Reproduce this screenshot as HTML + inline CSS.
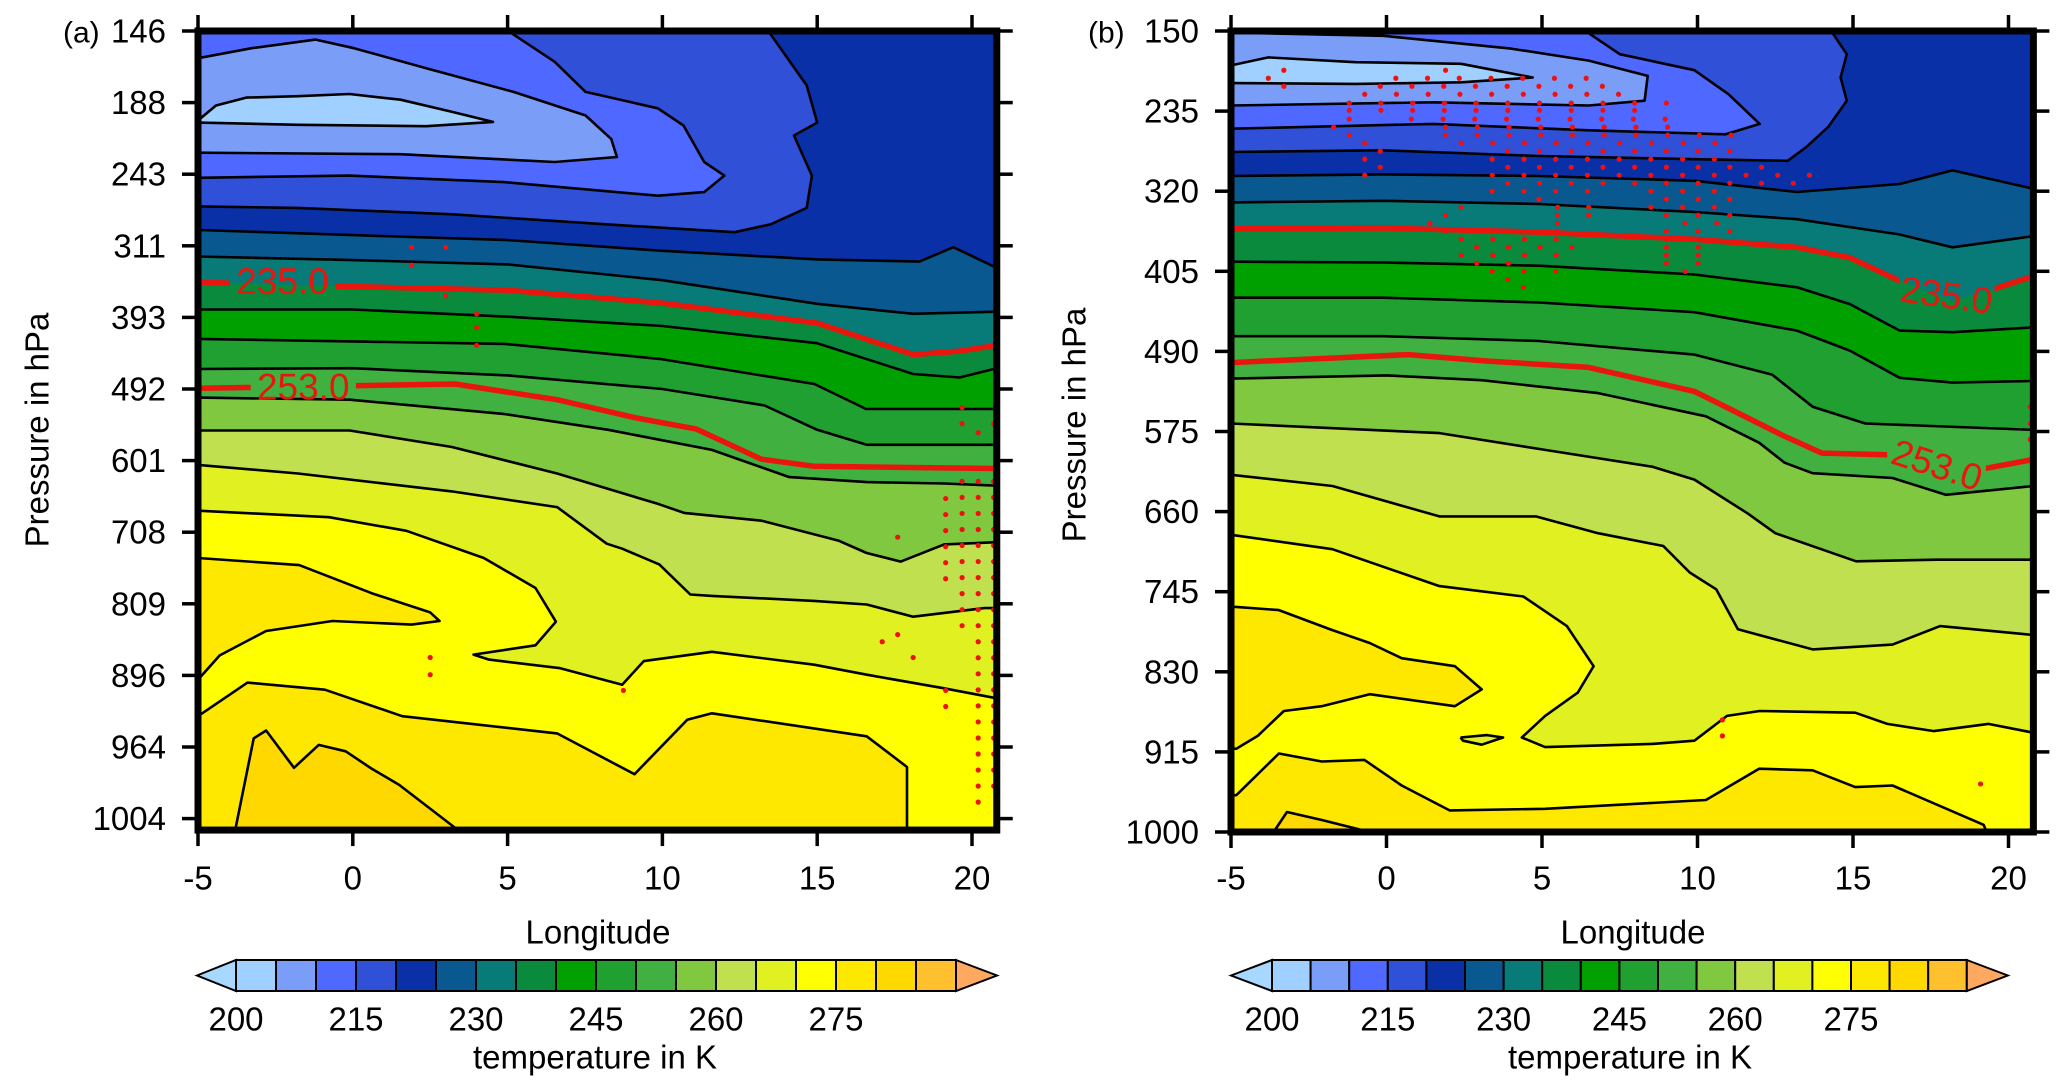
<!DOCTYPE html>
<html><head><meta charset="utf-8"><title>Temperature cross sections</title>
<style>
html,body{margin:0;padding:0;background:#fff;}
svg{display:block;font-family:"Liberation Sans",Arial,sans-serif;}
</style></head>
<body>
<svg id="fig" width="2067" height="1091" viewBox="0 0 2067 1091" xmlns="http://www.w3.org/2000/svg">
<rect x="0" y="0" width="2067" height="1091" fill="#fff"/>
</svg>
<script>
// ---------------- data ----------------
const lonTicks=[-5,0,5,10,15,20];
const aPressureTicks=[146,188,243,311,393,492,601,708,809,896,964,1004];
const bPressureTicks=[150,235,320,405,490,575,660,745,830,915,1000];
const cbarLevels=[200,205,210,215,220,225,230,235,240,245,250,255,260,265,270,275,280,285];
const cbarColors=['#a0d0ff','#7a9ef8','#4f68ff','#3050d8','#0a30a8','#0a5890','#087a78','#0a8a3c','#00a000','#20a030','#40b040','#80c840','#c0e050','#e0f020','#ffff00','#ffe800','#ffd800','#ffc030'];
const cbarLabels=[200,215,230,245,260,275];

// Panel (a) contours: [lon, level-index]
const aCold220=[[13.42,0],[14.66,0.76],[15.0,1.28],[14.25,1.46],[14.83,2.02],[14.66,2.47],[13.5,2.7],[12.33,2.81],[8.18,2.7],[3.21,2.56],[-1.77,2.47],[-5,2.45]];
const aCold215=[[5.02,0],[6.52,0.43],[7.52,0.85],[9.85,1.08],[10.68,1.32],[11.35,1.83],[12.0,2.02],[11.35,2.25],[9.85,2.3],[4.87,2.11],[-0.11,2.02],[-5,2.05]];
const aCold210=[[-5,0.38],[-3.27,0.24],[-1.2,0.12],[0.04,0.24],[2.37,0.52],[5.19,0.85],[7.52,1.18],[8.35,1.51],[8.53,1.76],[6.52,1.83],[1.54,1.72],[-5,1.70]];
const aCold205=[[-5,1.25],[-4.42,1.04],[-3.44,0.93],[-1.77,0.91],[-0.11,0.88],[1.54,0.96],[3.21,1.13],[4.53,1.27],[2.37,1.33],[-1.77,1.31],[-5,1.28]];
const aL225=[[-5,2.78],[0,2.85],[5,2.92],[10,3.07],[15,3.19],[18.3,3.22],[19.4,3.02],[20.8,3.31]];
const aL230=[[-5,3.15],[0,3.2],[5,3.26],[10,3.48],[15,3.81],[18.1,3.95],[20.8,3.92]];
const aR235=[[-5,3.51],[0,3.57],[5,3.62],[10,3.8],[15,4.08],[18.1,4.52],[19.6,4.47],[20.8,4.39]];
const aL240=[[-5,3.89],[0,3.89],[5,3.99],[10,4.12],[15,4.36],[18.1,4.79],[19.6,4.84],[20.8,4.71]];
const aL245=[[-5,4.3],[4.91,4.37],[9.91,4.58],[14.91,4.93],[16.58,5.28],[20.8,5.28]];
const aL250=[[-5,4.72],[0,4.71],[5,4.81],[10,5.0],[13.3,5.23],[15,5.57],[16.6,5.78],[20.8,5.78]];
const aR253=[[-5,4.99],[3.3,4.93],[6.6,5.15],[9.1,5.4],[11.1,5.56],[13.2,5.98],[14.9,6.08],[20.8,6.11]];
const aL255=[[-5,5.12],[-0.1,5.15],[4.91,5.35],[8.25,5.57],[11.6,5.85],[14.1,6.23],[16.6,6.3],[19.1,6.32],[20.8,6.35]];
const aL260=[[-5,5.58],[-0.1,5.58],[3.2,5.81],[6.6,6.18],[9.9,6.61],[10.7,6.73],[13.2,6.84],[15.7,7.12],[16.6,7.29],[17.7,7.41],[19.1,7.17],[20.8,7.14]];
const aL265=[[-5,6.06],[-1.77,6.18],[3.2,6.43],[6.6,6.65],[8.2,7.16],[8.7,7.23],[9.9,7.45],[10.9,7.87],[11.6,7.89],[14.9,7.96],[16.6,8.01],[18.1,8.18],[20.4,8.06],[20.8,8.06]];
const aL270=[[-5,6.7],[-0.77,6.79],[1.73,6.98],[4.23,7.36],[5.9,7.78],[6.56,8.25],[5.9,8.58],[3.9,8.71],[4.4,8.78],[6.7,8.9],[8.7,9.13],[9.4,8.8],[11.6,8.67],[14.9,8.85],[16.6,8.99],[19.1,9.18],[20.8,9.32]];
const aW275a=[[-5,7.36],[-1.73,7.46],[0.6,7.85],[2.5,8.12],[2.8,8.24],[1.9,8.29],[-0.66,8.24],[-2.8,8.38],[-4.3,8.72],[-5,9.06]];
const aW275b=[[-5,9.57],[-3.4,9.1],[-0.9,9.2],[1.6,9.57],[6.6,9.81],[9.1,10.38],[10.8,9.62],[11.6,9.53],[16.6,9.85],[17.9,10.28],[17.9,11.16]];
const aW280=[[-3.8,11.16],[-3.2,9.88],[-2.8,9.77],[-1.9,10.29],[-1.1,9.97],[-0.23,10.06],[0.6,10.3],[1.5,10.53],[3.4,11.16]];
const aDotColumns=[[19.15,6.53,7.65],[19.15,9.21,9.45],[19.68,5.26,5.5],[19.68,6.29,8.38],[20.2,5.61,5.61],[20.2,6.29,10.77],[20.7,5.49,5.49],[20.7,6.29,10.67]];
const aDotsSingle=[[1.9,3.02],[1.9,3.27],[3.0,3.02],[3.0,3.7],[4.0,3.95],[4.0,4.14],[4.0,4.39],[17.6,7.07],[17.1,8.53],[17.6,8.43],[18.1,8.75],[2.5,8.75],[2.5,8.99],[8.74,9.21]];

// Panel (b) contours
const bCold220=[[14.3,0],[14.8,0.29],[14.6,0.58],[14.8,0.87],[14.2,1.2],[13.5,1.45],[12.9,1.62],[9.9,1.6],[4.9,1.56],[-0.13,1.49],[-5,1.51]];
const bCold215=[[6.4,0],[7.5,0.29],[9.9,0.49],[11.0,0.79],[12.0,1.16],[10.9,1.29],[6.5,1.24],[1.5,1.16],[-5,1.22]];
const bCold210=[[-5,0.02],[-0.1,0.06],[4.0,0.22],[6.5,0.37],[8.4,0.56],[8.3,0.87],[6.5,0.93],[1.5,0.89],[-5,0.93]];
const bCold205=[[-5,0.43],[-3.8,0.33],[-1,0.39],[2.4,0.41],[4.7,0.58],[2.4,0.64],[-1,0.66],[-5,0.65]];
const bL225=[[-5,1.81],[-0.1,1.79],[4.9,1.81],[9.9,1.87],[13.2,2.01],[16.5,1.91],[18.2,1.74],[20.8,1.97]];
const bL230=[[-5,2.14],[-0.1,2.12],[4.9,2.16],[9.9,2.26],[13.2,2.35],[16.5,2.54],[18.2,2.7],[20.8,2.56]];
const bR235=[[-5,2.47],[-0.1,2.46],[4.9,2.51],[9.9,2.6],[13.2,2.7],[14.9,2.83],[16.5,3.12],[18.2,3.37],[19.7,3.2],[20.8,3.06]];
const bL240=[[-5,2.88],[-0.1,2.89],[4.9,2.93],[9.9,3.04],[13.2,3.2],[14.9,3.41],[16.5,3.74],[18.2,3.76],[20.8,3.7]];
const bL245=[[-5,3.33],[-0.1,3.33],[4.9,3.39],[9.9,3.51],[13.2,3.74],[14.9,3.99],[16.5,4.33],[18.2,4.39],[20.8,4.37]];
const bL250=[[-5,3.81],[-0.1,3.81],[4.9,3.87],[9.9,4.04],[12.4,4.29],[13.7,4.69],[15.4,4.9],[20.8,4.98]];
const bR253=[[-5,4.14],[0.7,4.04],[3.2,4.12],[6.5,4.2],[9.9,4.5],[11.1,4.73],[12.8,5.06],[14.0,5.27],[16.1,5.29],[19.27,5.46],[20.8,5.35]];
const bL255=[[-5,4.34],[0,4.3],[3.06,4.36],[6.8,4.52],[10.27,4.81],[11.98,5.14],[12.8,5.39],[13.7,5.52],[16.27,5.58],[17.98,5.79],[20.8,5.68]];
const bL260=[[-5,4.9],[1.7,5.02],[5.1,5.23],[8.55,5.44],[9.9,5.6],[11.6,6.02],[12.5,6.27],[15.1,6.62],[17.7,6.6],[20.8,6.6]];
const bL265=[[-5,5.54],[-1.74,5.68],[1.7,6.06],[4.8,6.06],[6.8,6.27],[8.9,6.43],[9.75,6.76],[10.6,6.97],[11.3,7.47],[13.7,7.72],[16.27,7.66],[17.8,7.43],[20.8,7.54]];
const bL270=[[-5,6.29],[-1.74,6.47],[1.7,6.93],[4.4,7.06],[5.8,7.43],[6.66,7.93],[6.15,8.26],[5.1,8.55],[4.35,8.82],[5.1,8.94],[8.55,8.9],[9.9,8.86],[10.95,8.55],[12.0,8.49],[15.07,8.51],[16.1,8.65],[17.6,8.74],[19.35,8.65],[20.8,8.76]];
const bW275a=[[-5,7.19],[-4.83,7.19],[-3.46,7.23],[-1.74,7.48],[-0.54,7.64],[0.49,7.83],[2.2,7.93],[3.06,8.22],[2.2,8.43],[-0.54,8.28],[-2.08,8.43],[-3.3,8.49],[-4.14,8.8],[-4.83,8.96],[-5,8.96]];
const bW275b=[[-5,9.54],[-4.83,9.54],[-3.46,9.02],[-2.08,9.12],[-0.71,9.1],[0.49,9.42],[2.03,9.73],[5.1,9.71],[10.27,9.6],[11.98,9.21],[13.7,9.23],[15.07,9.44],[16.27,9.42],[19.2,9.91],[19.3,10]];
const bW280=[[-3.63,10],[-3.2,9.75],[-2.08,9.85],[-0.54,10]];
const bBlob265=[[2.38,8.82],[3.23,8.79],[3.75,8.82],[3.06,8.91],[2.46,8.86]];
const bDotRows=[[0.49,-3.3,-3.3],[0.49,1.9,1.9],[0.59,-3.8,-2.8],[0.59,0.3,6.5],[0.69,-3.3,-3.3],[0.69,-0.2,7.0],[0.79,-0.7,7.5],[0.9,-1.2,9.0],[0.99,-1.2,8.5],[1.1,-1.2,-1.2],[1.1,0.8,9.0],[1.2,-1.7,-1.7],[1.2,1.9,9.6],[1.3,-1.2,-1.2],[1.3,1.9,11.5],[1.4,-0.7,-0.7],[1.4,2.4,11.5],[1.5,-0.2,-0.2],[1.5,3.9,11.5],[1.6,-0.7,-0.7],[1.6,3.4,11.5],[1.7,-0.2,-0.2],[1.7,3.9,12.1],[1.8,-0.7,-0.7],[1.8,3.4,13.7],[1.9,3.9,13.2],[2.0,3.4,6.5],[2.0,8.5,11.5],[2.1,4.9,4.9],[2.1,9.0,11.5],[2.2,2.4,2.4],[2.2,5.5,5.5],[2.2,6.5,6.5],[2.2,8.5,11.5],[2.3,1.9,2.9],[2.3,5.5,5.5],[2.3,6.5,6.5],[2.3,9.0,11.5],[2.4,1.4,2.4],[2.4,5.5,5.5],[2.4,9.6,11.5],[2.5,1.9,2.9],[2.5,5.5,6.0],[2.5,9.0,11.1],[2.6,2.4,6.0],[2.6,9.0,10.6],[2.7,2.9,6.0],[2.7,9.0,10.1],[2.8,2.4,5.5],[2.8,9.0,10.6],[2.9,2.9,4.9],[2.9,9.0,10.1],[3.0,3.4,5.5],[3.0,9.6,9.6],[3.1,3.9,4.9],[3.2,4.4,4.4]];
const bDotsSingle=[[10.8,8.6],[10.8,8.8],[19.1,9.4],[20.7,4.69],[20.7,4.9],[20.7,5.1]];

// ---------------- rendering ----------------
const svg=document.getElementById('fig');
const NS='http://www.w3.org/2000/svg';
function mk(tag,attrs,parent){const e=document.createElementNS(NS,tag);for(const k in attrs)e.setAttribute(k,attrs[k]);(parent||svg).appendChild(e);return e;}
function bandColor(level){const i=cbarLevels.indexOf(level);return cbarColors[i];}

const panels={
 a:{x0:198,xs:30.96,y0:31,ys:71.6,bottom:11.16,ticks:aPressureTicks,lbl:'(a)',tickLblX:166,lblX:63,pX:37,pY:430,lonX:598,cbX0:197,cbB0:236,cbBW:40},
 b:{x0:1231,xs:31.1,y0:31,ys:80.1,bottom:10,ticks:bPressureTicks,lbl:'(b)',tickLblX:1199,lblX:1088,pX:1074,pY:425,lonX:1633,cbX0:1231,cbB0:1272,cbBW:38.6}
};
function X(p,lon){return p.x0+(lon+5)*p.xs;}
function Y(p,i){return p.y0+i*p.ys;}
function ptsStr(p,pts){return pts.map(q=>X(p,q[0]).toFixed(1)+','+Y(p,q[1]).toFixed(1)).join(' ');}

function drawPanel(key,cfg){
 const p=panels[key];
 const g=mk('g',{});
 
 
 const cid='clip-'+key;
 const defs=mk('defs',{},g);
 const cp=mk('clipPath',{id:cid},defs);
 mk('rect',{x:X(p,-5),y:Y(p,0),width:X(p,20.8)-X(p,-5),height:Y(p,p.bottom)-Y(p,0)},cp);
 const field=mk('g',{'clip-path':'url(#'+cid+')'},g);
 
 
 const bg=mk('rect',{x:X(p,-5),y:Y(p,0),width:X(p,20.8)-X(p,-5),height:Y(p,p.bottom)-Y(p,0),fill:bandColor(220)},field);
 
 
 const strokes=[];
 cfg.cold.forEach(c=>{
  const extra=c.corner?[[-5,0]]:[];
  const poly=mk('polygon',{points:ptsStr(p,c.pts.concat(extra)),fill:bandColor(c.band)},field);
  
  
  strokes.push(c.pts);
 });
 cfg.below.forEach(c=>{
  if(c.band===240){
   const rp=cfg.red[0].pts.concat([[20.8,p.bottom+0.5],[-5,p.bottom+0.5]]);
   const poly235=mk('polygon',{points:ptsStr(p,rp),fill:bandColor(235)},field);
   
   
  }
  const pts=c.pts.concat([[20.8,p.bottom+0.5],[-5,p.bottom+0.5]]);
  const poly=mk('polygon',{points:ptsStr(p,pts),fill:bandColor(c.band)},field);
  
  
  strokes.push(c.pts);
 });
 cfg.warm.forEach(c=>{
  const extra=c.close||[];
  const poly=mk('polygon',{points:ptsStr(p,c.pts.concat(extra)),fill:bandColor(c.band)},field);
  
  
  strokes.push(c.closedStroke?c.pts.concat([c.pts[0]]):c.pts);
 });
 strokes.forEach(s=>{
  const l=mk('polyline',{points:ptsStr(p,s),fill:'none',stroke:'#000','stroke-width':2.6,'stroke-linejoin':'round'},field);
  
  
 });
 cfg.red.forEach((r,ri)=>{
  const mid='mask-'+key+ri;
  const m=mk('mask',{id:mid,maskUnits:'userSpaceOnUse',x:0,y:0,width:2067,height:1091},defs);
  mk('rect',{x:0,y:0,width:2067,height:1091,fill:'#fff'},m);
  mk('rect',{x:X(p,r.gap[0]),y:0,width:X(p,r.gap[1])-X(p,r.gap[0]),height:1091,fill:'#000'},m);
  const l=mk('polyline',{points:ptsStr(p,r.pts),fill:'none',stroke:'#e8160c','stroke-width':5.5,'stroke-linejoin':'round',mask:'url(#'+mid+')'},field);
  
  
  const t=mk('text',{x:X(p,r.lx),y:Y(p,r.ly),'font-size':37,fill:'#e8160c','text-anchor':'middle','dominant-baseline':'central',transform:'rotate('+r.rot+' '+X(p,r.lx)+' '+Y(p,r.ly)+')'},field);
  t.textContent=r.level.toFixed(1);
  
  
 });
 const dots=[];
 cfg.dotsSingle.forEach(d=>dots.push(d));
 (cfg.dotCols||[]).forEach(c=>{for(let v=c[1];v<=c[2]+0.001;v+=0.224)dots.push([c[0],v]);});
 (cfg.dotRows||[]).forEach(r=>{for(let v=r[1];v<=r[2]+0.01;v+=1.02)dots.push([v,r[0]]);});
 dots.forEach(d=>{
  const c=mk('circle',{cx:X(p,d[0]),cy:Y(p,d[1]),r:2.6,fill:'#ee1111'},field);
  
  
 });
 const fr=mk('rect',{x:X(p,-5),y:Y(p,0),width:X(p,20.8)-X(p,-5),height:Y(p,p.bottom)-Y(p,0),fill:'none',stroke:'#000','stroke-width':7},g);
 
 
 const left=X(p,-5),right=X(p,20.8),top=Y(p,0),bot=Y(p,p.bottom);
 lonTicks.forEach(v=>{
  const x=X(p,v);
  const t1=mk('line',{x1:x,y1:bot+3,x2:x,y2:bot+16,stroke:'#000','stroke-width':3.5},g);
  
  
  const t2=mk('line',{x1:x,y1:top-3,x2:x,y2:top-16,stroke:'#000','stroke-width':3.5},g);
  
  
  const tl=mk('text',{x:x,y:878,'font-size':33,'text-anchor':'middle','dominant-baseline':'central',fill:'#000'},g);
  tl.textContent=String(v);
  
  
 });
 p.ticks.forEach((v,i)=>{
  const y=Y(p,i);
  const t1=mk('line',{x1:left-3,y1:y,x2:left-16,y2:y,stroke:'#000','stroke-width':3.5},g);
  
  
  const t2=mk('line',{x1:right+3,y1:y,x2:right+16,y2:y,stroke:'#000','stroke-width':3.5},g);
  
  
  const tl=mk('text',{x:p.tickLblX,y:y,'font-size':33,'text-anchor':'end','dominant-baseline':'central',fill:'#000'},g);
  tl.textContent=String(v);
  
  
 });
 const pl=mk('text',{x:p.lblX,y:Y(p,0)+2,'font-size':30,'dominant-baseline':'central',fill:'#000'},g);
 pl.textContent=p.lbl;
 
 
 const yt=mk('text',{x:p.pX,y:p.pY,'font-size':33,'text-anchor':'middle','dominant-baseline':'central',transform:'rotate(-90 '+p.pX+' '+p.pY+')',fill:'#000'},g);
 yt.textContent='Pressure in hPa';
 
 
 const xt=mk('text',{x:p.lonX,y:932,'font-size':33,'text-anchor':'middle','dominant-baseline':'central',fill:'#000'},g);
 xt.textContent='Longitude';
 
 
 const cb=mk('g',{},g);
 
 
 const cy0=960,cy1=991,cym=(cy0+cy1)/2;
 const n=cbarColors.length;
 const endX=p.cbB0+n*p.cbBW;
 const lt=mk('polygon',{points:p.cbX0+','+cym+' '+p.cbB0+','+cy0+' '+p.cbB0+','+cy1,fill:'#a8d8ff',stroke:'#000','stroke-width':2},cb);
 
 
 cbarColors.forEach((c,i)=>{
  const r=mk('rect',{x:p.cbB0+i*p.cbBW,y:cy0,width:p.cbBW,height:cy1-cy0,fill:c,stroke:'#000','stroke-width':2},cb);
  
  
 });
 const rt=mk('polygon',{points:endX+','+cy0+' '+(endX+41)+','+cym+' '+endX+','+cy1,fill:'#ffa860',stroke:'#000','stroke-width':2},cb);
 
 
 cbarLabels.forEach(v=>{
  const i=cbarLevels.indexOf(v);
  const t=mk('text',{x:p.cbB0+i*p.cbBW,y:1019,'font-size':33,'text-anchor':'middle','dominant-baseline':'central',fill:'#000'},cb);
  t.textContent=String(v);
  
  
 });
 const ct=mk('text',{x:p.lonX-3,y:1057,'font-size':33,'text-anchor':'middle','dominant-baseline':'central',fill:'#000'},cb);
 ct.textContent='temperature in K';
 
 
}

drawPanel('a',{
 cold:[{band:215,pts:aCold220,corner:true},{band:210,pts:aCold215,corner:true},{band:205,pts:aCold210},{band:200,pts:aCold205}],
 below:[{band:225,pts:aL225},{band:230,pts:aL230},{band:240,pts:aL240},{band:245,pts:aL245},{band:250,pts:aL250},{band:255,pts:aL255},{band:260,pts:aL260},{band:265,pts:aL265},{band:270,pts:aL270}],
 warm:[{band:275,pts:aW275a},{band:275,pts:aW275b,close:[[-5,11.2]]},{band:280,pts:aW280}],
 red:[{level:235,pts:aR235,gap:[-3.97,-0.56],lx:-2.27,ly:3.5,rot:0},{level:253,pts:aR253,gap:[-3.3,0.1],lx:-1.6,ly:4.97,rot:0}],
 dotsSingle:aDotsSingle,dotCols:aDotColumns
});
drawPanel('b',{
 cold:[{band:215,pts:bCold220,corner:true},{band:210,pts:bCold215,corner:true},{band:205,pts:bCold210,corner:true},{band:200,pts:bCold205}],
 below:[{band:225,pts:bL225},{band:230,pts:bL230},{band:240,pts:bL240},{band:245,pts:bL245},{band:250,pts:bL250},{band:255,pts:bL255},{band:260,pts:bL260},{band:265,pts:bL265},{band:270,pts:bL270}],
 warm:[{band:275,pts:bW275a},{band:275,pts:bW275b,close:[[-5,10.1]]},{band:280,pts:bW280},{band:265,pts:bBlob265,closedStroke:true}],
 red:[{level:235,pts:bR235,gap:[16.5,19.55],lx:18.0,ly:3.3,rot:8},{level:253,pts:bR253,gap:[16.1,19.27],lx:17.7,ly:5.42,rot:18}],
 dotsSingle:bDotsSingle,dotRows:bDotRows
});
</script>
</body></html>
